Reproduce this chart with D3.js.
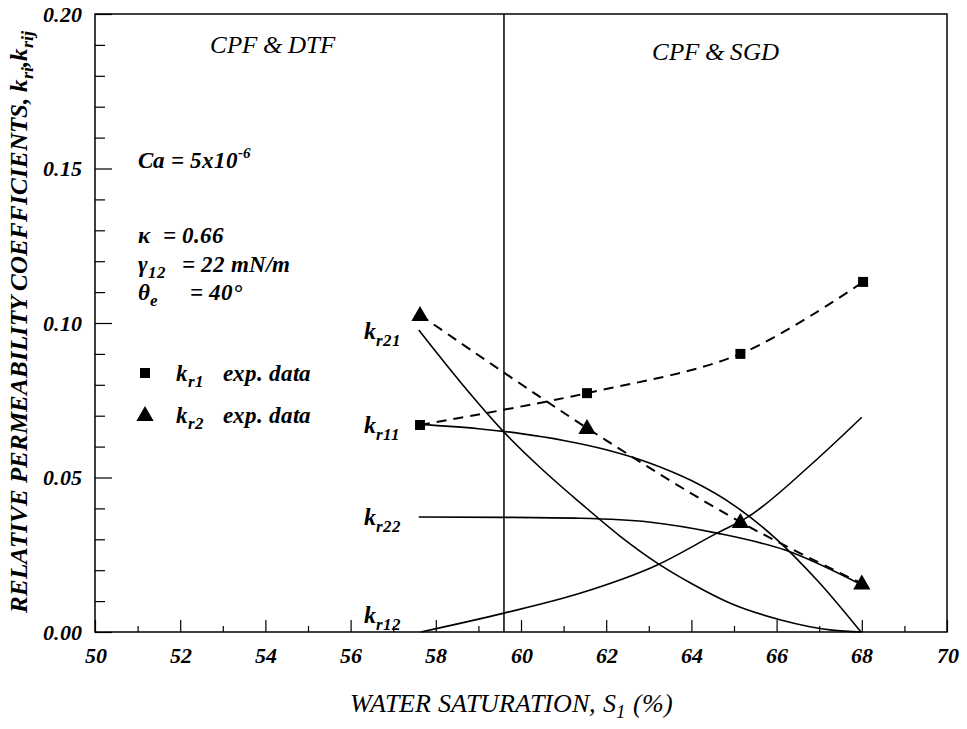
<!DOCTYPE html>
<html>
<head>
<meta charset="utf-8">
<script src="https://cdn.jsdelivr.net/npm/d3@7"></script>
<style>
@font-face { font-family: "PlotSerif"; font-style: normal; font-weight: 400; src: local("Liberation Serif"), local("LiberationSerif"), local("Liberation Serif Regular"), local("LiberationSerif-Regular"); }
@font-face { font-family: "PlotSerif"; font-style: italic; font-weight: 400; src: local("Liberation Serif Italic"), local("LiberationSerif-Italic"); }
@font-face { font-family: "PlotSerif"; font-style: normal; font-weight: 700; src: local("Liberation Serif Bold"), local("LiberationSerif-Bold"); }
@font-face { font-family: "PlotSerif"; font-style: italic; font-weight: 700; src: local("Liberation Serif Bold Italic"), local("LiberationSerif-BoldItalic"); }
body { margin: 0; background: #fff; }
.axis text { font-size: 22px; font-weight: bold; font-style: italic; fill: #000; }
.axis line { stroke: #000; stroke-width: 1.2; }
.axis path { display: none; }
.frame { fill: none; stroke: #000; stroke-width: 1.5; }
.curve { fill: none; stroke: #000; stroke-width: 1.6; }
.curve--dashed { stroke-width: 2; stroke-dasharray: 10,7; }
.note { font-style: italic; font-weight: bold; font-size: 23px; }
.region { font-style: italic; font-size: 25px; }
.label { font-style: italic; font-weight: bold; font-size: 24px; }
.title { font-style: italic; font-size: 26px; }
</style>
</head>
<body>
<svg id="chart" width="967" height="729"></svg>
<script>
const fontStack = '"PlotSerif", "Liberation Serif", Tinos, "Times New Roman", serif';

// experimental points
const satKr1 = [57.63, 61.55, 65.15, 68.03];
const expKr1 = [0.067, 0.0773, 0.090, 0.1133];
const satKr2 = [57.63, 61.55, 65.15, 68.0];
const expKr2 = [0.1026, 0.066, 0.0356, 0.0157];

// model curves
const satKr11 = [57.6, 59, 60, 61, 62, 63, 64, 65, 66, 67, 67.98];
const kr11 = [0.0672, 0.0658, 0.0642, 0.0620, 0.0590, 0.0548, 0.0490, 0.0410, 0.0300, 0.0160, 0.0];
const satKr21 = [57.6, 58.6, 59.6, 60.5, 61.4, 62.3, 63.2, 64.0, 64.9, 66.1, 67.3, 68.0];
const kr21 = [0.0977, 0.0805, 0.0647, 0.0526, 0.0417, 0.0313, 0.0223, 0.0157, 0.0094, 0.0039, 0.0006, 0.0];
const satKr22 = [57.6, 59.6, 61.4, 63.0, 64.6, 66.2, 68.0];
const kr22 = [0.0372, 0.0371, 0.0368, 0.0356, 0.0320, 0.0265, 0.0152];
const satKr12 = [57.65, 59.6, 61.4, 63.2, 64.6, 65.3, 66.85, 68.0];
const kr12 = [0, 0.0061, 0.0126, 0.0217, 0.032, 0.037, 0.0547, 0.0695];

const regimeBoundary = 59.6;

const xMajor = d3.range(50, 71, 2);
const xMinor = d3.range(51, 70, 2);
const yMajor = [0, 0.05, 0.10, 0.15, 0.20];
const yMinor = d3.range(1, 20).filter(i => i % 5).map(i => i / 100);

const fullWidth = 967;
const fullHeight = 729;
const margin = {top: 14, right: 20, bottom: 97, left: 95};
const width = fullWidth - margin.left - margin.right;
const height = fullHeight - margin.top - margin.bottom;

const x = d3.scaleLinear().domain([50, 70]).range([0, width]);
const y = d3.scaleLinear().domain([0, 0.20]).range([height, 0]);

const svg = d3.select('#chart');

const g = svg.append('g')
    .attr('transform', `translate(${margin.left}, ${margin.top})`);

const zip = (xs, ys) => xs.map((d, i) => [d, ys[i]]);

// axes, ticks pointing inward
g.append('g').attr('class', 'axis axis--x')
    .attr('transform', `translate(0, ${height})`)
    .call(d3.axisBottom(x).tickValues(xMajor).tickSizeInner(-12).tickSizeOuter(0).tickPadding(15).tickFormat(d3.format('d')));
g.append('g').attr('class', 'axis axis--x-minor')
    .attr('transform', `translate(0, ${height})`)
    .call(d3.axisBottom(x).tickValues(xMinor).tickSizeInner(-6).tickSizeOuter(0).tickFormat(''));
g.append('g').attr('class', 'axis axis--y')
    .call(d3.axisLeft(y).tickValues(yMajor).tickSizeInner(-17).tickSizeOuter(0).tickPadding(13).tickFormat(d3.format('.2f')));
g.append('g').attr('class', 'axis axis--y-minor')
    .call(d3.axisLeft(y).tickValues(yMinor).tickSizeInner(-10).tickSizeOuter(0).tickFormat(''));

g.selectAll('.axis').attr('font-family', null);

g.append('rect').attr('class', 'frame')
    .attr('width', width).attr('height', height);

g.append('line')
    .attr('x1', x(regimeBoundary)).attr('x2', x(regimeBoundary))
    .attr('y1', 0).attr('y2', height)
    .attr('stroke', '#000').attr('stroke-width', 1.5);

const smooth = d3.line().x(d => x(d[0])).y(d => y(d[1])).curve(d3.curveMonotoneX);
const through = d3.line().x(d => x(d[0])).y(d => y(d[1])).curve(d3.curveCatmullRom.alpha(0.5));

[zip(satKr11, kr11), zip(satKr21, kr21), zip(satKr22, kr22), zip(satKr12, kr12)].forEach(pts => {
    g.append('path').attr('class', 'curve').attr('d', smooth(pts));
});

g.append('path').attr('class', 'curve curve--dashed').attr('d', through(zip(satKr1, expKr1)));
g.append('path').attr('class', 'curve curve--dashed').attr('d', through(zip(satKr2, expKr2)));

const square = d3.symbol().type(d3.symbolSquare).size(100);
const triangle = d3.symbol().type(d3.symbolTriangle).size(130);

g.selectAll('.kr1').data(zip(satKr1, expKr1)).enter().append('path')
    .attr('class', 'kr1')
    .attr('transform', d => `translate(${x(d[0])}, ${y(d[1])})`)
    .attr('d', square);
g.selectAll('.kr2').data(zip(satKr2, expKr2)).enter().append('path')
    .attr('class', 'kr2')
    .attr('transform', d => `translate(${x(d[0])}, ${y(d[1]) + 1})`)
    .attr('d', triangle);

// text with sub / superscripts, relative shifts only so anchoring stays in one chunk
function richText(parent, x0, y0, parts, cls) {
    const t = parent.append('text').attr('class', cls).attr('x', x0).attr('y', y0);
    let shift = 0;
    parts.forEach(p => {
        const ts = t.append('tspan').text(p.t);
        const target = p.sub ? p.sub : (p.sup ? -p.sup : 0);
        if (p.x != null) ts.attr('x', p.x);
        if (target !== shift) ts.attr('dy', target - shift);
        shift = target;
        if (p.sub) ts.style('font-size', '0.72em');
        if (p.sup) ts.style('font-size', '0.65em');
    });
    return t;
}

const notes = svg.append('g');
richText(notes, 210, 53, [{t: 'CPF & DTF'}], 'region');
richText(notes, 652, 60, [{t: 'CPF & SGD'}], 'region');
richText(notes, 138, 168, [{t: 'Ca = 5x10'}, {t: '-6', sup: 10}], 'note');
richText(notes, 138, 243, [{t: 'κ'}, {t: '= 0.66', x: 163}], 'note');
richText(notes, 138, 272, [{t: 'γ'}, {t: '12', sub: 6}, {t: '= 22 mN/m', x: 182}], 'note');
richText(notes, 138, 300, [{t: 'θ'}, {t: 'e', sub: 6}, {t: '= 40°', x: 190}], 'note');

// legend
notes.append('path').attr('transform', 'translate(145, 373)').attr('d', square);
notes.append('path').attr('transform', 'translate(145, 416)').attr('d', triangle);
richText(notes, 176, 381, [{t: 'k'}, {t: 'r1', sub: 6}, {t: 'exp. data', x: 223}], 'note');
richText(notes, 176, 423, [{t: 'k'}, {t: 'r2', sub: 6}, {t: 'exp. data', x: 223}], 'note');

// curve labels, set left of each curve start
const labelX = margin.left + x(satKr11[0]) - 55;
[['r21', kr21[0] - 0.001], ['r11', kr11[0] - 0.001], ['r22', kr22[0] - 0.0005], ['r12', 0.005]].forEach(([s, v]) => {
    richText(notes, labelX, margin.top + y(v) + 6, [{t: 'k'}, {t: s, sub: 7}], 'label');
});

// axis titles
richText(svg, margin.left + width / 2 - 10, 712, [{t: 'WATER SATURATION, S'}, {t: '1', sub: 6}, {t: ' (%)'}], 'title')
    .attr('text-anchor', 'middle');

const yTitle = svg.append('g').attr('transform', 'translate(27, 322) rotate(-90)');
richText(yTitle, 0, 0, [
    {t: 'RELATIVE PERMEABILITY COEFFICIENTS, k'}, {t: 'ri', sub: 6}, {t: ',k'}, {t: 'rij', sub: 6}
], 'title')
    .attr('text-anchor', 'middle')
    .style('font-weight', 'bold')
    .style('font-size', '25px');

svg.selectAll('text').each(function() {
    this.style.setProperty('font-family', fontStack, 'important');
});
</script>
</body>
</html>
